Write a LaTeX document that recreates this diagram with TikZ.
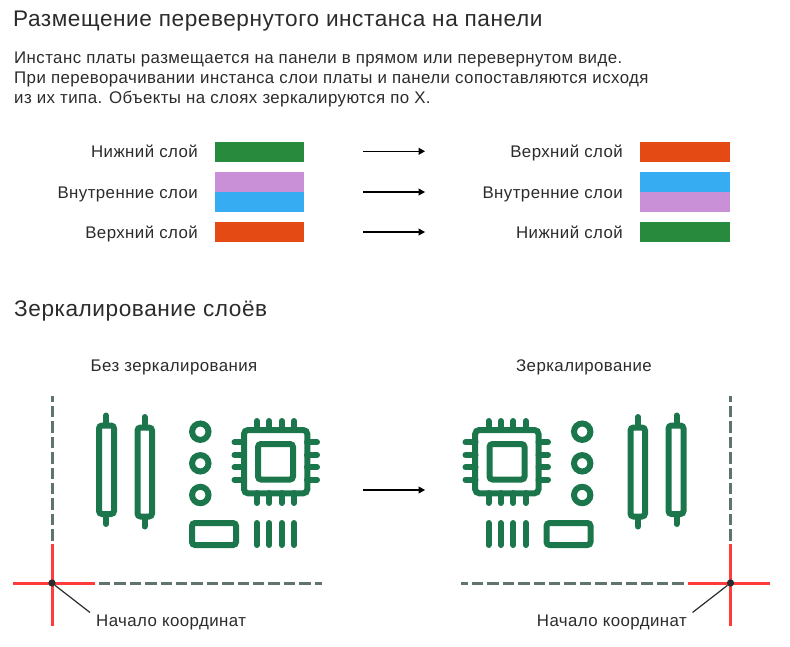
\documentclass[tikz,border=0pt]{standalone}
\usepackage{fontspec}
\setmainfont{Liberation Sans}[LetterSpace=2.5]
\usetikzlibrary{arrows.meta}
\definecolor{inktext}{HTML}{2B2B2B}
\definecolor{boardgreen}{HTML}{1B774B}
\definecolor{axisgray}{HTML}{5F7470}
\definecolor{axisred}{HTML}{FF3B3B}
\definecolor{layertop}{HTML}{E34A14}
\definecolor{layerbottom}{HTML}{288A3C}
\definecolor{layerviolet}{HTML}{C990D8}
\definecolor{layerblue}{HTML}{36ACF3}
\tikzset{
  titletext/.style={anchor=base west, inner sep=0pt, text=inktext, font=\fontsize{22.6}{26}\selectfont},
  bodytext/.style={anchor=base west, inner sep=0pt, text=inktext, font=\fontsize{16.85}{19.6}\selectfont},
  labeltext/.style={anchor=base, inner sep=0pt, text=inktext, font=\fontsize{16.85}{18}\selectfont},
  layerbox/.style={draw=none, inner sep=0pt, minimum width=90pt, minimum height=20pt},
  flowarrow/.style={-{Triangle[length=6.5pt,width=7pt]}, line width=1.1pt, black},
  trace/.style={draw=boardgreen, line width=6pt, rounded corners=3pt},
  lead/.style={draw=boardgreen, line width=6pt, line cap=round},
  axisdash/.style={draw=axisgray, line width=3pt, dash pattern=on 11.3pt off 4.1pt},
  axisline/.style={draw=axisred, line width=3pt},
  board/.pic={
    % axes
    \draw[axisdash] (52,540.5) -- (52,396);
    \draw[axisdash] (99,583) -- (322,583);
    \draw[axisline] (52,544) -- (52,626);
    \draw[axisline] (13,583) -- (95,583);
    % long parts
    \draw[lead] (106,415.5) -- (106,524);
    \draw[lead] (144.5,417) -- (144.5,526.5);
    \draw[trace, fill=white] (99,425.5) rectangle (114,514);
    \draw[trace, fill=white] (137.5,427.5) rectangle (152,516.5);
    % pads
    \foreach \y in {431.7,463.3,495}
      \draw[boardgreen, line width=6pt] (200.3,\y) circle (8.2);
    \draw[trace] (192,523) rectangle (236,545);
    % chip
    \foreach \x in {256.7,269.3,281.7,294} {
      \draw[lead] (\x,523) -- (\x,545);
      \draw[lead] (\x,421) -- (\x,430);
      \draw[lead] (\x,493) -- (\x,503);
    }
    \foreach \y in {442.3,455,467.3,479.7} {
      \draw[lead] (234.5,\y) -- (244,\y);
      \draw[lead] (307,\y) -- (317,\y);
    }
    \draw[trace, rounded corners=4pt] (244,430) rectangle (307.3,493.3);
    \draw[trace] (258,444) rectangle (293,479.5);
  }
}
\begin{document}
\begin{tikzpicture}[x=1pt, y=-1pt]
  \useasboundingbox (0,0) rectangle (790,646);

  \node[titletext] (heading) at (13,26.7) {Размещение перевернутого инстанса на панели};
  \node[bodytext] (introA) at (14,63.5) {Инстанс платы размещается на панели в прямом или перевернутом виде.};
  \node[bodytext] (introB) at (14,83.2) {При переворачивании инстанса слои платы и панели сопоставляются исходя};
  \node[bodytext] (introC) at (14,103) {из их типа. Объекты на слоях зеркалируются по X.};

  % left stack
  \node[labeltext, anchor=base east] (lowA) at (198,157.5) {Нижний слой};
  \node[labeltext, anchor=base east] (innerA) at (198,198) {Внутренние слои};
  \node[labeltext, anchor=base east] (highA) at (198,238) {Верхний слой};
  \node[layerbox, fill=layerbottom, minimum width=89.4pt] (boxA1) at (259.7,152) {};
  \node[layerbox, fill=layerviolet, minimum width=89.4pt] (boxA2) at (259.7,182) {};
  \node[layerbox, fill=layerblue, minimum width=89.4pt] (boxA3) at (259.7,202) {};
  \node[layerbox, fill=layertop, minimum width=89.4pt] (boxA4) at (259.7,232) {};

  % right stack
  \node[labeltext, anchor=base east] (highB) at (623,157.5) {Верхний слой};
  \node[labeltext, anchor=base east] (innerB) at (623,198) {Внутренние слои};
  \node[labeltext, anchor=base east] (lowB) at (623,238) {Нижний слой};
  \node[layerbox, fill=layertop] (boxB1) at (685,152) {};
  \node[layerbox, fill=layerblue] (boxB2) at (685,182) {};
  \node[layerbox, fill=layerviolet] (boxB3) at (685,202) {};
  \node[layerbox, fill=layerbottom] (boxB4) at (685,232) {};

  \coordinate (fromA) at (363,151.3);
  \coordinate (toA) at (425,151.3);
  \coordinate (fromB) at (363,192);
  \coordinate (toB) at (425,192);
  \coordinate (fromC) at (363,232);
  \coordinate (toC) at (425,232);
  \draw[flowarrow] (fromA) -- (toA);
  \draw[flowarrow] (fromB) -- (toB);
  \draw[flowarrow] (fromC) -- (toC);

  \node[titletext] (mirrorhead) at (14,316.7) {Зеркалирование слоёв};
  \node[labeltext] (plain) at (174,371.7) {Без зеркалирования};
  \node[labeltext] (mirror) at (584,371.7) {Зеркалирование};

  % boards
  \pic at (0,0) {board};
  \pic[xscale=-1] at (782.5,0) {board};

  \coordinate (fromD) at (363,490);
  \coordinate (toD) at (425,490);
  \draw[flowarrow] (fromD) -- (toD);

  \node[circle, fill=inktext, inner sep=0pt, minimum size=7.3pt] (originA) at (52,583) {};
  \node[circle, fill=inktext, inner sep=0pt, minimum size=7.3pt] (originB) at (730.5,583) {};
  \coordinate (tipA) at (90,612.5);
  \coordinate (tipB) at (692.5,612.5);
  \draw[inktext, line width=1.2pt] (originA) -- (tipA);
  \draw[inktext, line width=1.2pt] (originB) -- (tipB);
  \node[labeltext, anchor=base west] (noteA) at (96,626.7) {Начало координат};
  \node[labeltext, anchor=base east] (noteB) at (687,626.7) {Начало координат};
\end{tikzpicture}
\end{document}
